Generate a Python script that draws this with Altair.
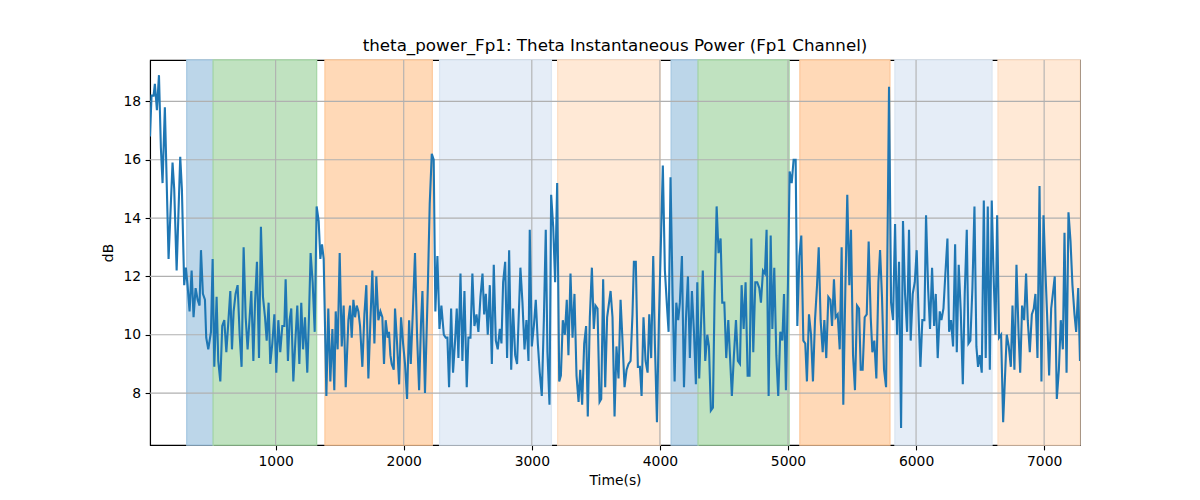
import altair as alt
import pandas as pd

# ---- data ----
times = [
    19, 31, 47, 57, 73, 89, 104, 117, 135, 164, 195, 208, 227, 255, 268, 286, 299, 312, 328, 344,
    359, 375, 391, 406, 417, 432, 448, 458, 474, 495, 508, 521, 539, 552, 568, 583, 599, 615, 630, 646,
    659, 672, 687, 703,
    719, 734, 750, 766, 781, 797, 810, 826, 839, 854, 870, 885, 901, 917, 930, 945, 958, 974, 990, 1005,
    1021, 1036, 1052, 1068, 1078, 1096, 1109, 1122, 1138, 1154, 1169, 1185, 1200, 1214, 1229, 1247, 1260, 1273, 1289, 1305,
    1320, 1336, 1349, 1362, 1375, 1396, 1411, 1427, 1443, 1458,
    1469, 1484, 1500, 1516, 1531, 1547, 1568, 1581, 1594, 1607, 1620, 1633, 1646, 1659, 1677, 1693, 1708, 1724, 1740, 1755,
    1771, 1786, 1802, 1818, 1833, 1846, 1859, 1875, 1885, 1896, 1906, 1922, 1932, 1948, 1964, 1979, 1995, 2010, 2026, 2042,
    2055, 2073, 2088, 2104, 2120, 2135, 2146,
    2166, 2188, 2203, 2219, 2234, 2247, 2263, 2279, 2294, 2313, 2328, 2341, 2354, 2370, 2385, 2401, 2414, 2427, 2443, 2458,
    2474, 2492, 2505, 2521, 2536, 2552, 2568, 2583, 2599, 2615, 2628, 2641, 2656, 2672, 2688, 2703, 2719, 2734, 2750, 2763,
    2776, 2792, 2807, 2823, 2839, 2854, 2870, 2885,
    2911, 2927, 2943, 2958, 2974, 2984, 3000, 3016, 3031, 3047, 3062, 3078, 3094, 3109, 3122, 3138, 3151, 3167, 3182, 3198,
    3214, 3227, 3242, 3258, 3273, 3286, 3302, 3318, 3333, 3349, 3365, 3378, 3393, 3409, 3424, 3437, 3453, 3469, 3484, 3497,
    3513, 3529, 3542, 3557, 3573, 3588,
    3615, 3630, 3646, 3661, 3677, 3693, 3708, 3724, 3740, 3755, 3771, 3786, 3797, 3812, 3828, 3844, 3857, 3872, 3888, 3904,
    3917, 3932, 3948, 3961, 3977, 3992, 4023, 4039, 4055, 4068, 4083, 4099, 4115, 4128, 4143, 4156, 4172, 4188, 4203, 4219,
    4234, 4250, 4266, 4281, 4292, 4307,
    4335, 4354, 4370, 4383, 4398, 4414, 4427, 4443, 4458, 4474, 4487, 4503, 4518, 4534, 4549, 4562, 4578, 4594, 4609, 4625,
    4638, 4654, 4669, 4685, 4700, 4714, 4729, 4745, 4760, 4776, 4789, 4805, 4820, 4833, 4849, 4865, 4878, 4893, 4909, 4924,
    4940, 4956, 4969, 4984, 5000, 5013, 5029,
    5044, 5060, 5073, 5089, 5104, 5120, 5135, 5148, 5164, 5180, 5195, 5211, 5227, 5240, 5255, 5271, 5284, 5299, 5315, 5331,
    5344, 5359, 5372, 5388, 5404, 5419, 5432, 5448, 5463, 5479, 5492, 5508, 5523, 5539, 5555, 5568, 5583, 5599, 5615, 5630,
    5646, 5659, 5674, 5690, 5706, 5719, 5734,
    5750, 5766, 5789, 5805, 5820, 5836, 5852, 5867, 5883, 5898, 5914, 5930, 5945, 5958, 5974, 5990, 6005, 6021, 6034, 6049,
    6065, 6078, 6094, 6109, 6125, 6141, 6154, 6169, 6185, 6198, 6214, 6229, 6245, 6258, 6273, 6289, 6305, 6318, 6333, 6349,
    6365, 6380, 6396, 6409, 6424, 6440, 6456,
    6471, 6484, 6497, 6513, 6529, 6544, 6560, 6576, 6591, 6607, 6620, 6633, 6648, 6664, 6680, 6693, 6708, 6724, 6740, 6753,
    6768, 6784, 6800, 6813, 6828, 6844, 6859, 6872, 6888, 6904, 6919, 6932, 6948, 6964, 6979, 6995, 7008, 7023, 7039, 7055,
    7068, 7083, 7099, 7115, 7130, 7146, 7159, 7175, 7190, 7206, 7221, 7237, 7250, 7266, 7280,
]

values = [
    16.8, 18.2, 18.2, 18.6, 17.7, 18.9, 16.4, 15.2, 17.8, 12.6, 15.9, 15.0, 12.2, 16.1, 15.0, 11.7, 12.3, 11.7, 10.8, 12.2,
    10.6, 11.6, 11.2, 11.0, 12.9, 11.4, 11.2, 9.9, 9.5, 10.1, 12.6, 8.9, 11.3, 9.1, 8.4, 10.3, 10.5, 9.4, 10.4, 11.5,
    9.5, 10.8, 11.4, 11.7,
    10.0, 8.9, 13.0, 10.6, 9.5, 10.6, 11.5, 9.1, 11.1, 12.5, 9.2, 13.7, 11.3, 10.6, 9.8, 11.1, 9.0, 9.7, 10.7, 8.7,
    10.5, 9.4, 10.3, 10.3, 11.9, 9.1, 10.5, 10.9, 8.4, 9.8, 11.0, 9.0, 11.1, 9.5, 10.6, 8.7, 10.6, 12.8, 11.8, 10.1,
    14.4, 13.9, 12.6, 13.1, 12.6, 7.9, 10.9, 8.4, 10.2, 8.1,
    10.8, 9.5, 12.8, 9.6, 11.0, 8.2, 10.5, 11.0, 9.9, 11.2, 10.6, 11.0, 10.8, 10.3, 8.9, 10.7, 11.7, 8.5, 10.5, 12.2,
    9.7, 12.0, 10.5, 10.8, 10.6, 9.0, 10.5, 9.9, 10.1, 9.3, 9.0, 8.8, 10.9, 9.7, 8.3, 10.6, 9.7, 9.0, 7.8, 10.5,
    9.0, 11.0, 12.8, 10.0, 8.1, 10.4, 11.5,
    8.0, 11.6, 14.5, 16.2, 16.0, 10.8, 12.7, 10.2, 11.0, 10.0, 9.9, 9.9, 8.2, 10.9, 8.7, 9.8, 10.9, 9.2, 12.1, 9.1,
    11.5, 8.2, 9.9, 9.9, 12.1, 10.3, 10.7, 10.1, 11.3, 12.1, 10.7, 11.4, 10.0, 11.7, 9.0, 12.4, 9.8, 9.5, 10.2, 9.7,
    11.8, 12.5, 9.2, 12.9, 8.8, 10.9, 9.3, 9.0,
    12.3, 11.1, 9.5, 10.5, 9.1, 13.6, 9.6, 10.3, 11.2, 9.7, 8.7, 7.9, 10.5, 13.6, 9.4, 7.6, 14.8, 13.7, 11.8, 15.2,
    8.4, 8.6, 10.5, 10.0, 11.2, 9.3, 12.1, 9.9, 11.4, 8.6, 7.7, 8.8, 7.6, 9.7, 10.3, 7.2, 10.6, 12.3, 10.2, 11.0,
    10.9, 7.7, 7.8, 11.9, 8.2, 10.6,
    11.5, 10.6, 7.2, 9.6, 8.5, 11.2, 9.8, 8.2, 8.8, 9.0, 9.1, 10.7, 12.5, 12.5, 8.9, 8.9, 7.9, 10.6, 9.1, 8.7,
    10.7, 9.2, 12.7, 9.7, 7.0, 10.4, 15.8, 12.2, 11.0, 10.1, 15.4, 11.4, 8.4, 11.1, 10.5, 11.1, 12.7, 8.2, 10.5, 12.0,
    9.2, 11.5, 10.1, 8.3, 11.8, 8.5,
    12.2, 9.1, 10.0, 9.6, 7.4, 7.5, 11.3, 14.4, 12.8, 13.3, 11.1, 11.1, 9.2, 10.5, 9.1, 7.9, 9.3, 10.5, 9.1, 9.0,
    11.7, 10.2, 11.8, 8.6, 8.6, 13.3, 9.4, 11.8, 11.8, 11.6, 11.1, 12.2, 12.1, 13.6, 7.9, 13.4, 10.2, 12.3, 9.3, 7.9,
    10.1, 9.8, 11.4, 8.1, 11.8, 15.6, 15.2,
    16.0, 16.0, 10.3, 12.7, 13.4, 9.8, 9.7, 8.4, 10.7, 10.0, 8.4, 10.5, 11.7, 13.0, 10.5, 9.4, 10.5, 9.2, 11.3, 11.2,
    10.3, 11.9, 10.6, 10.7, 9.5, 13.0, 7.6, 11.6, 14.8, 11.7, 13.6, 9.3, 8.1, 11.0, 10.9, 8.8, 8.8, 10.6, 10.7, 13.2,
    10.6, 9.4, 9.8, 8.5, 11.8, 12.9, 11.3,
    8.8, 8.2, 18.5, 11.1, 10.5, 13.8, 10.0, 12.5, 6.8, 13.9, 11.4, 10.1, 13.6, 9.8, 11.4, 11.8, 12.9, 10.5, 8.9, 10.5,
    10.5, 14.1, 11.6, 10.2, 12.3, 10.3, 11.4, 9.2, 10.8, 10.5, 10.9, 12.1, 13.3, 10.1, 10.5, 9.6, 13.1, 9.4, 12.4, 10.8,
    8.3, 11.4, 13.6, 9.7, 9.8, 11.6, 14.4,
    9.6, 8.9, 9.3, 8.7, 14.6, 9.2, 14.4, 8.8, 14.6, 11.8, 10.0, 14.1, 9.9, 10.0, 7.0, 8.4, 10.0, 9.6, 8.9, 11.0,
    8.8, 12.4, 10.1, 8.7, 11.0, 10.5, 12.1, 10.5, 9.4, 10.7, 10.9, 11.4, 9.2, 15.1, 8.4, 14.1, 12.4, 10.7, 8.6, 10.9,
    11.4, 12.0, 7.8, 8.8, 10.5, 9.5, 13.5, 8.7, 14.2, 13.2, 11.7, 10.7, 10.1, 11.6, 9.1,
]

region_start = [306, 512, 1385, 2280, 3202, 4088, 4298, 5093, 5835, 6640]
region_end = [512, 1320, 2223, 3153, 4002, 4298, 5009, 5796, 6593, 7280]
region_kind = ["blue", "green", "orange", "lightblue", "lightorange",
               "blue", "green", "orange", "lightblue", "lightorange"]

kind_names = ["blue", "green", "orange", "lightblue", "lightorange"]
kind_fill = ["#bcd6e9", "#c0e2c0", "#ffd9b7", "#e5edf7", "#ffe9d6"]
kind_edge = ["#a7c9e2", "#a8d7a8", "#fdca9e", "#dbe6f2", "#fde0c7"]

x_ticks = [1000, 2000, 3000, 4000, 5000, 6000, 7000]
y_ticks = [8, 10, 12, 14, 16, 18]

x_domain = [19, 7280]
y_domain = [6.22, 19.42]

# ---- chart ----
W, H = 930, 385
FONT = "DejaVu Sans"

line_df = pd.DataFrame({"t": times, "v": values})
reg_df = pd.DataFrame({"start": region_start, "end": region_end, "kind": region_kind})
xg_df = pd.DataFrame({"t": x_ticks})
yg_df = pd.DataFrame({"v": y_ticks})

xs = alt.Scale(domain=x_domain, nice=False, zero=False)
ys = alt.Scale(domain=y_domain, nice=False, zero=False)
x_axis = alt.Axis(values=x_ticks, format="d", grid=False)
y_axis = alt.Axis(values=y_ticks, format="d", grid=False)

fill_scale = alt.Scale(domain=kind_names, range=kind_fill)
edge_scale = alt.Scale(domain=kind_names, range=kind_edge)

rects = alt.Chart(reg_df).mark_rect(strokeWidth=1.3).encode(
    x=alt.X("start:Q", scale=xs, axis=x_axis, title="Time(s)"),
    x2="end:Q",
    y=alt.value(0),
    y2=alt.value(H),
    fill=alt.Fill("kind:N", scale=fill_scale, legend=None),
    stroke=alt.Stroke("kind:N", scale=edge_scale, legend=None),
)

xgrid = alt.Chart(xg_df).mark_rule(color="#b0b0b0", strokeWidth=1.1).encode(
    x=alt.X("t:Q", scale=xs, axis=x_axis, title="Time(s)"),
    y=alt.value(0),
    y2=alt.value(H),
)
ygrid = alt.Chart(yg_df).mark_rule(color="#b0b0b0", strokeWidth=1.1).encode(
    y=alt.Y("v:Q", scale=ys, axis=y_axis, title="dB"),
    x=alt.value(0),
    x2=alt.value(W),
)

line = alt.Chart(line_df).mark_line(color="#1f77b4", strokeWidth=2.1, clip=True).encode(
    x=alt.X("t:Q", scale=xs, axis=x_axis, title="Time(s)"),
    y=alt.Y("v:Q", scale=ys, axis=y_axis, title="dB"),
)

chart = alt.layer(rects, xgrid, ygrid, line).properties(
    width=W,
    height=H,
    background="white",
    title=alt.TitleParams(
        "theta_power_Fp1: Theta Instantaneous Power (Fp1 Channel)",
        font=FONT, fontSize=16.7, fontWeight="normal", color="black",
        anchor="middle", baseline="alphabetic", offset=8, dy=16,
    ),
    autosize=alt.AutoSizeParams(type="none"),
    padding={"left": 150, "top": 60, "right": 120, "bottom": 55},
).configure_axis(
    labelFont=FONT, labelFontSize=13.9, labelColor="black",
    titleFont=FONT, titleFontSize=13.9, titleColor="black", titleFontWeight="normal",
    domainColor="black", domainWidth=1.1, tickColor="black", tickWidth=1.1, tickSize=4.9,
    labelPadding=4.5,
).configure_axisX(titlePadding=5).configure_axisY(titlePadding=7).configure_view(
    stroke="black", strokeWidth=1.1
)

chart.save("out.html", embed_options={"renderer": "svg", "actions": False})
